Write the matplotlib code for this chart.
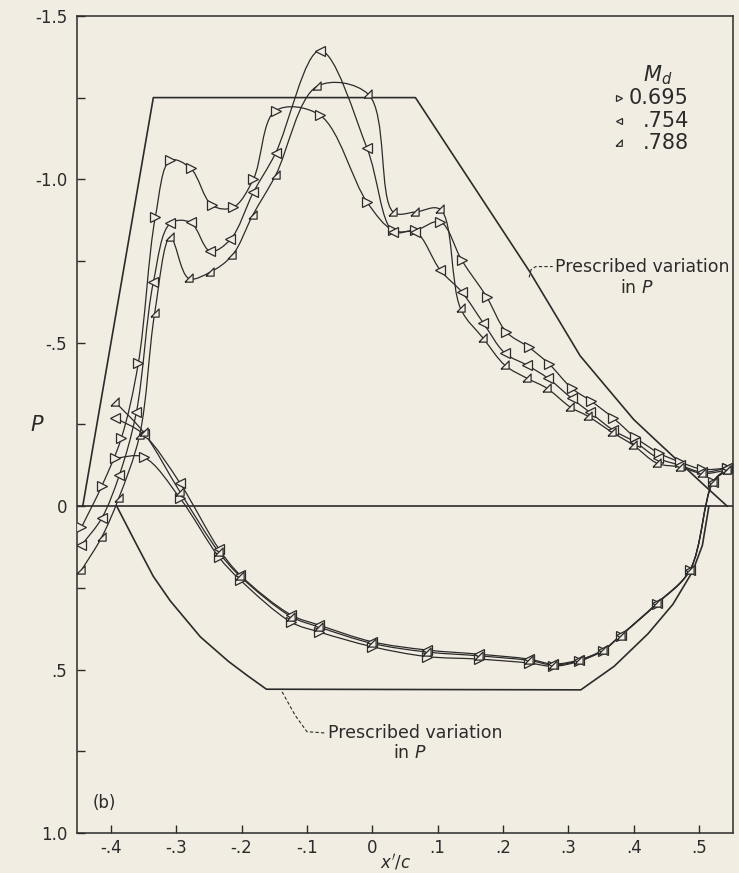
import numpy as np
import matplotlib
matplotlib.use("Agg")
import matplotlib.pyplot as plt
from matplotlib.path import Path
from matplotlib.patches import PathPatch
from matplotlib.ticker import FixedLocator, FuncFormatter

BG = '#f2ede3'
INK = '#2b2b2b'

# upper-surface pressure coefficient, M_d = 0.695
x_up_695 = [-0.445, -0.414, -0.384, -0.358, -0.332, -0.309, -0.278, -0.245, -0.213, -0.182,
            -0.148, -0.080, -0.008, 0.032, 0.066, 0.104, 0.137, 0.175, 0.205, 0.239,
            0.271, 0.305, 0.335, 0.369, 0.402, 0.439, 0.471, 0.505, 0.543]
p_up_695 = [0.065, -0.061, -0.208, -0.437, -0.884, -1.058, -1.034, -0.920, -0.914, -1.000,
            -1.210, -1.196, -0.930, -0.844, -0.844, -0.870, -0.752, -0.640, -0.533, -0.487,
            -0.434, -0.361, -0.321, -0.269, -0.211, -0.162, -0.135, -0.113, -0.116]
# M_d = 0.754
x_up_754 = [-0.445, -0.414, -0.387, -0.361, -0.335, -0.309, -0.278, -0.248, -0.217, -0.182,
            -0.148, -0.080, -0.008, 0.032, 0.066, 0.104, 0.137, 0.170, 0.203, 0.237,
            0.269, 0.305, 0.333, 0.369, 0.402, 0.437, 0.471, 0.505, 0.543]
p_up_754 = [0.120, 0.037, -0.095, -0.287, -0.685, -0.865, -0.868, -0.780, -0.816, -0.960,
            -1.080, -1.394, -1.095, -0.840, -0.840, -0.722, -0.655, -0.560, -0.468, -0.431,
            -0.391, -0.330, -0.287, -0.232, -0.196, -0.147, -0.125, -0.104, -0.116]
# M_d = 0.788
x_up_788 = [-0.445, -0.414, -0.388, -0.356, -0.333, -0.309, -0.281, -0.248, -0.214, -0.183,
            -0.148, -0.084, -0.006, 0.032, 0.066, 0.104, 0.135, 0.170, 0.203, 0.237,
            0.267, 0.303, 0.330, 0.367, 0.399, 0.436, 0.471, 0.505, 0.543]
p_up_788 = [0.196, 0.095, -0.024, -0.217, -0.590, -0.823, -0.697, -0.716, -0.768, -0.890,
            -1.012, -1.285, -1.260, -0.900, -0.900, -0.908, -0.605, -0.513, -0.431, -0.391,
            -0.361, -0.303, -0.275, -0.226, -0.187, -0.131, -0.120, -0.100, -0.110]

# lower surface
x_lo = [-0.393, -0.350, -0.294, -0.235, -0.202, -0.124, -0.081, 0.000, 0.083, 0.164,
        0.240, 0.277, 0.317, 0.353, 0.380, 0.436, 0.486, 0.521, 0.543]
p_lo_695 = [-0.147, -0.150, -0.024, 0.155, 0.226, 0.355, 0.385, 0.430, 0.460, 0.468,
            0.480, 0.490, 0.474, 0.442, 0.397, 0.298, 0.196, -0.073, -0.116]
p_lo_754 = [-0.270, -0.220, -0.070, 0.130, 0.211, 0.333, 0.364, 0.415, 0.440, 0.453,
            0.468, 0.483, 0.470, 0.440, 0.395, 0.297, 0.196, -0.073, -0.116]
p_lo_788 = [-0.318, -0.226, -0.043, 0.140, 0.215, 0.338, 0.370, 0.420, 0.446, 0.458,
            0.472, 0.486, 0.472, 0.441, 0.396, 0.296, 0.195, -0.073, -0.110]

# prescribed variation in P
x_pres_up = [-0.443, -0.335, 0.066, 0.240, 0.318, 0.360, 0.400, 0.440, 0.475, 0.510, 0.543]
p_pres_up = [0.0, -1.25, -1.25, -0.720, -0.460, -0.360, -0.265, -0.190, -0.125, -0.060, 0.0]
x_pres_lo = [-0.391, -0.360, -0.335, -0.309, -0.263, -0.220, -0.190, -0.162,
             0.319, 0.370, 0.422, 0.460, 0.490, 0.505, 0.515]
p_pres_lo = [0.0, 0.120, 0.215, 0.290, 0.400, 0.475, 0.520, 0.560,
             0.562, 0.490, 0.390, 0.300, 0.200, 0.120, 0.0]

mach_labels = ['0.695', '.754', '.788']

# open triangles; the third one is a slanted right triangle
slant_tri = [(-1.0, -0.8), (0.8, -0.8), (0.8, 1.0), (-1.0, -0.8)]
markers = ['>', '<', slant_tri]


def faired_path(xs, ys, sx=654.0, sy=327.0):
    # centripetal Catmull-Rom fairing through the test points, as cubic Beziers
    p = np.column_stack([np.asarray(xs) * sx, np.asarray(ys) * sy])
    ext = np.vstack([2 * p[0] - p[1], p, 2 * p[-1] - p[-2]])
    verts = [p[0]]
    codes = [Path.MOVETO]
    for i in range(1, len(ext) - 2):
        p0, p1, p2, p3 = ext[i - 1], ext[i], ext[i + 1], ext[i + 2]
        d1 = max(np.hypot(*(p1 - p0)) ** 0.5, 1e-6)
        d2 = max(np.hypot(*(p2 - p1)) ** 0.5, 1e-6)
        d3 = max(np.hypot(*(p3 - p2)) ** 0.5, 1e-6)
        b1 = (d1**2 * p2 - d2**2 * p0 + (2 * d1**2 + 3 * d1 * d2 + d2**2) * p1) / (3 * d1 * (d1 + d2))
        b2 = (d3**2 * p1 - d2**2 * p3 + (2 * d3**2 + 3 * d3 * d2 + d2**2) * p2) / (3 * d3 * (d3 + d2))
        verts += [b1, b2, p2]
        codes += [Path.CURVE4] * 3
    verts = np.array(verts) / [sx, sy]
    return Path(verts, codes)


plt.rcParams['font.family'] = ['DejaVu Sans']
fig = plt.figure(figsize=(7.39, 8.73), dpi=100, facecolor=BG)
ax = fig.add_axes([0.104, 0.0458, 0.888, 0.936], facecolor=BG)

ax.set_xlim(-0.452, 0.552)
ax.set_ylim(1.0, -1.5)

# prescribed pressure distributions and the zero line
ax.plot(x_pres_up, p_pres_up, color=INK, lw=1.2)
ax.plot(x_pres_lo, p_pres_lo, color=INK, lw=1.2)
ax.axhline(0, color=INK, lw=1.2)

series = [
    (x_up_695, p_up_695, p_lo_695),
    (x_up_754, p_up_754, p_lo_754),
    (x_up_788, p_up_788, p_lo_788),
]
for (xu, pu, pl), m in zip(series, markers):
    for xs, ps in [(xu, pu), (x_lo, pl)]:
        ax.add_patch(PathPatch(faired_path(xs, ps), fill=False, ec=INK, lw=0.9, zorder=2))
        ax.plot(xs, ps, ls='none', marker=m, ms=6.5, mfc=BG, mec=INK, mew=0.9, zorder=3)

# key
ax.text(0.436, -1.318, '$M_d$', ha='center', va='center', fontsize=15, color=INK)
for yk, lab, m in zip([-1.248, -1.177, -1.110], mach_labels, markers):
    ax.plot([0.377], [yk], ls='none', marker=m, ms=5, mfc=BG, mec=INK, mew=0.9)
    ax.text(0.484, yk, lab, ha='right', va='center', fontsize=15, color=INK)

# labels on the prescribed curves
dash = (0, (3, 2))
ax.plot([0.240, 0.243, 0.250, 0.276], [-0.700, -0.724, -0.733, -0.733],
        color=INK, lw=0.8, ls=dash)
ax.text(0.279, -0.733, 'Prescribed variation', ha='left', va='center', fontsize=12.5, color=INK)
ax.text(0.405, -0.667, 'in $P$', ha='center', va='center', fontsize=12.5, color=INK)

ax.plot([-0.138, -0.118, -0.100, -0.072], [0.568, 0.640, 0.690, 0.694],
        color=INK, lw=0.8, ls=dash)
ax.text(-0.068, 0.694, 'Prescribed variation', ha='left', va='center', fontsize=12.5, color=INK)
ax.text(0.058, 0.755, 'in $P$', ha='center', va='center', fontsize=12.5, color=INK)

ax.text(-0.41, 0.908, '(b)', ha='center', va='center', fontsize=12, color=INK)
ax.text(-0.513, -0.248, '$P$', ha='center', va='center', fontsize=15, color=INK, clip_on=False)
ax.text(0.036, 1.088, "$x'/c$", ha='center', va='center', fontsize=12, color=INK, clip_on=False)


def p_fmt(v, pos):
    s = f'{v:.1f}'
    if abs(v) < 1e-9:
        return '0'
    return s.replace('0.', '.') if abs(v) < 1 else s


def x_fmt(v, pos):
    if abs(v) < 1e-9:
        return '0'
    return f'{v:.1f}'.replace('0.', '.')


ax.yaxis.set_major_locator(FixedLocator([-1.5, -1.0, -0.5, 0.0, 0.5, 1.0]))
ax.yaxis.set_minor_locator(FixedLocator([-1.25, -0.75, -0.25, 0.25, 0.75]))
ax.yaxis.set_major_formatter(FuncFormatter(p_fmt))
ax.xaxis.set_major_locator(FixedLocator(np.round(np.arange(-0.4, 0.51, 0.1), 1)))
ax.xaxis.set_major_formatter(FuncFormatter(x_fmt))

ax.tick_params(axis='both', which='both', direction='in', length=6, width=1.0,
               colors=INK, labelsize=12)
ax.tick_params(axis='y', pad=7)
ax.tick_params(axis='x', pad=4)
for sp in ax.spines.values():
    sp.set_color(INK)
    sp.set_linewidth(1.1)

fig.savefig('out.png', dpi=100, facecolor=BG)
